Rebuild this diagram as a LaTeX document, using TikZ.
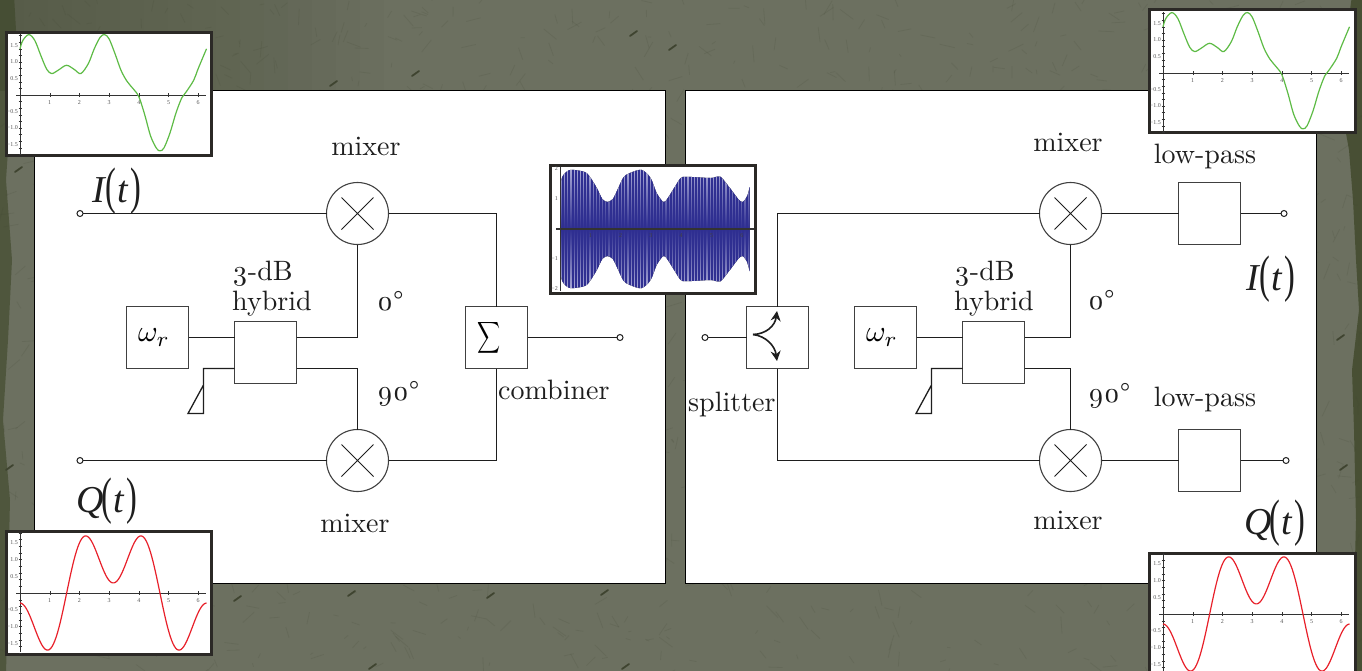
\documentclass[tikz,border=0pt]{standalone}
\usepackage{fontspec}
\usepackage{graphicx}
\setmainfont{lmroman10-regular.otf}[Numbers=OldStyle]
\newfontfamily\libser{Liberation Serif}
\newfontfamily\tickfont{Liberation Serif}
\usetikzlibrary{arrows.meta}
\definecolor{bgolive}{HTML}{6C7060}
\definecolor{bgdark}{HTML}{474C36}
\definecolor{bgdeep}{HTML}{3C4526}
\definecolor{scratch}{HTML}{3F4430}
\definecolor{ink}{HTML}{1E1E1E}
\definecolor{frameink}{HTML}{2B2926}
\definecolor{curvegreen}{HTML}{5DBB45}
\definecolor{curvered}{HTML}{E8202A}
\definecolor{carrier}{HTML}{2F2F91}
\definecolor{carrierlight}{HTML}{A9A9D6}
\definecolor{ticktext}{HTML}{555555}
\tikzset{
  panel/.style={draw=black,fill=white,line width=1.1pt},
  wire/.style={draw=ink,line width=1.3pt},
  blockbox/.style={draw=ink!85,fill=white,line width=1.2pt,minimum width=62pt,minimum height=62pt,inner sep=0pt,outer sep=0pt},
  mixernode/.style={circle,draw=ink!85,fill=white,line width=1.1pt,minimum size=62pt,inner sep=0pt,outer sep=0pt},
  terminal/.style={circle,draw=ink,fill=white,line width=1pt,minimum size=6pt,inner sep=0pt,outer sep=0pt},
  crossmark/.style={draw=ink,line width=.8pt},
  lbl/.style={font=\fontsize{28}{30}\selectfont,text=ink,inner sep=0pt,anchor=base west},
  sig/.style={font=\libser\itshape\fontsize{38}{40}\selectfont,text=ink,inner sep=0pt,anchor=base west},
  tick/.style={font=\tickfont\fontsize{6}{7}\selectfont,text=ticktext,inner sep=0pt},
  insetframe/.style={draw=frameink,fill=white,line width=3pt},
  axisline/.style={draw=black!80,line width=.7pt},
  trace/.style={line width=1.2pt},
}
\newcommand{\bigparen}[1]{{\libser\upshape\fontsize{38}{40}\selectfont\raisebox{-1pt}{\scalebox{.85}[1.35]{#1}}}}
\newcommand{\sigtext}[1]{#1\kern1pt\bigparen{(}\kern1pt t\kern2.5pt\bigparen{)}}
\newcommand{\omegalabel}{\hspace*{-7pt}\scalebox{3}{$\omega_r$}}
% axes of one small plot; #1 origin x, #2 origin y, #3 y tick pitch
\newcommand{\plotaxes}[3]{%
  \begin{scope}[shift={(#1,#2)}]
    \draw[axisline] (-4,0) -- (186,0);
    \draw[axisline] (0,-61) -- (0,59);
    \foreach \k in {1,...,6} {
      \draw[axisline,line width=.4pt] ({\k*29.7},-2) -- ({\k*29.7},2);
      \node[tick] at ({\k*29.7},8) {\k};
    }
    \foreach \k in {-18,-16,...,18} \draw[axisline,line width=.3pt] (-1.5,{\k*#3/10}) -- (1.5,{\k*#3/10});
    \foreach \v/\t in {1.5/1.5,1/1.0,.5/0.5,-.5/−0.5,-1/−1.0,-1.5/−1.5}
      \node[tick,anchor=east] at (-2,{-\v*#3}) {\t};
  \end{scope}}
\newcommand{\icurve}{plot[smooth,tension=.55] coordinates {(0,1.4) (.1,1.66) (.3,1.83) (.5,1.65) (.7,1.2) (.9,.78) (1.07,.65) (1.3,.76) (1.57,.9) (1.85,.76) (2.05,.65) (2.3,.95) (2.5,1.4) (2.7,1.75) (2.85,1.83) (3,1.7) (3.2,1.25) (3.4,.75) (3.6,.42) (3.8,.2) (4,-.05) (4.2,-.6) (4.4,-1.25) (4.6,-1.62) (4.72,-1.69) (4.85,-1.6) (5.05,-1.15) (5.25,-.55) (5.45,-.08) (5.6,.1) (5.85,.45) (6,.8) (6.28,1.4)}}
\newcommand{\qcurve}{plot[domain=0:6.283,samples=140,smooth] (\x,{-1.293*cos(\x r)+.993*cos(3*\x r)})}
\begin{document}
\begin{tikzpicture}[x=1pt,y=-1pt]
\useasboundingbox (0,0) rectangle (1362,670);
% ---- textured backdrop ----
\fill[bgolive] (-5,-5) rectangle (1367,675);
\foreach \i in {1,...,16} \fill[bgdark,opacity=.035] (-5,-5) rectangle ({\i*24},91);
\fill[bgdeep,opacity=.75] (1367,-5) -- (1352,-5) -- (1346,40) -- (1340,100) -- (1349,150) -- (1353,200) -- (1356,260) -- (1359,310) -- (1352,370) -- (1354,430) -- (1356,520) -- (1354,600) -- (1350,675) -- (1367,675) -- cycle;
\fill[bgdeep,opacity=.6] (-5,-5) -- (14,-5) -- (16,30) -- (10,120) -- (6,180) -- (12,260) -- (8,340) -- (3,420) -- (10,500) -- (6,675) -- (-5,675) -- cycle;
\pgfmathsetseed{4242}
\foreach \n in {1,...,1500} {
  \pgfmathsetmacro{\gx}{rnd*1362}
  \pgfmathsetmacro{\gy}{rnd*670}
  \pgfmathsetmacro{\ga}{rnd*360}
  \pgfmathsetmacro{\gl}{3+rnd*14}
  \draw[scratch,opacity=.14,line width=.8pt] (\gx,\gy) -- ++(\ga:\gl);
}
\foreach \sx/\sy in {330/86,412/76,630/36,669/50,234/601,348/596,487/598,601/595,369/669,622/669,15/172,1337/340,6/470,1340/470,1330/90} {
  \draw[scratch,line width=1.8pt,line cap=round] (\sx,\sy) -- ++(7,-5);
}
% ---- panels ----
\draw[panel] (34.5,90.5) rectangle (665.5,583.5);
\draw[panel] (685.5,90.5) rectangle (1316.5,583.5);
% ---- left panel ----
\node[terminal] (iinL) at (80,213.5) {};
\node[terminal] (qinL) at (80,460.5) {};
\node[mixernode] (mixUL) at (357.5,213.5) {};
\node[mixernode] (mixLL) at (357.5,460.5) {};
\node[blockbox] (oscL) at (157.5,337.5) {\omegalabel};
\node[blockbox] (hybL) at (265.5,352.5) {};
\node[blockbox] (sumL) at (496.5,337.5) {\hspace*{-14pt}\raisebox{2pt}{\scalebox{1.6}[2.2]{$\displaystyle\sum$}}};
\node[terminal] (outL) at (620,337.5) {};
\coordinate (upL) at (496.5,213.5);
\coordinate (dnL) at (496.5,460.5);
\coordinate (c0L) at (357.5,337.5);
\coordinate (c90L) at (357.5,368.5);
\coordinate (h90L) at (296.5,368.5);
\coordinate (hinL) at (234.5,368.5);
\coordinate (stubL) at (203.5,368.5);
\coordinate (t1L) at (203.5,385);
\coordinate (t2L) at (203.5,413.5);
\coordinate (t3L) at (188,413.5);
\draw[wire] (iinL) -- (mixUL);
\draw[wire] (qinL) -- (mixLL);
\draw[wire] (mixUL) -- (upL) -- (sumL.north);
\draw[wire] (mixLL) -- (dnL) -- (sumL.south);
\draw[wire] (sumL) -- (outL);
\draw[wire] (oscL.east) -- (oscL.east -| hybL.west);
\draw[wire] (oscL.east -| hybL.east) -- (c0L) -- (mixUL.south);
\draw[wire] (h90L) -- (c90L) -- (mixLL.north);
\draw[wire] (hinL) -- (stubL) -- (t2L) -- (t3L) -- (t1L);
\draw[crossmark] (mixUL) ++(-16,-16) -- ++(32,32) ++(-32,0) -- ++(32,-32);
\draw[crossmark] (mixLL) ++(-16,-16) -- ++(32,32) ++(-32,0) -- ++(32,-32);
% ---- right panel ----
\node[terminal] (inR) at (705,337.5) {};
\node[blockbox] (split) at (777.5,337.5) {};
\node[mixernode] (mixUR) at (1070.5,213.5) {};
\node[mixernode] (mixLR) at (1070.5,460.5) {};
\node[blockbox] (oscR) at (885.5,337.5) {\omegalabel};
\node[blockbox] (hybR) at (993.5,352.5) {};
\node[blockbox] (lpU) at (1209.5,213.5) {};
\node[blockbox] (lpL) at (1209.5,460.5) {};
\node[terminal] (iout) at (1284,213.5) {};
\node[terminal] (qout) at (1286,460.5) {};
\coordinate (upR) at (777.5,213.5);
\coordinate (dnR) at (777.5,460.5);
\coordinate (c0R) at (1070.5,337.5);
\coordinate (c90R) at (1070.5,368.5);
\coordinate (h90R) at (1024.5,368.5);
\coordinate (hinR) at (962.5,368.5);
\coordinate (stubR) at (931.5,368.5);
\coordinate (t1R) at (931.5,385);
\coordinate (t2R) at (931.5,413.5);
\coordinate (t3R) at (916,413.5);
\coordinate (sc) at (753,334.5);
\coordinate (sa) at (777,311);
\coordinate (sb) at (777,361);
\draw[wire] (inR) -- (split);
\draw[wire] (split.north) -- (upR) -- (mixUR);
\draw[wire] (split.south) -- (dnR) -- (mixLR);
\draw[wire] (mixUR) -- (lpU);
\draw[wire] (mixLR) -- (lpL);
\draw[wire] (lpU) -- (iout);
\draw[wire] (lpL) -- (qout);
\draw[wire] (oscR.east) -- (oscR.east -| hybR.west);
\draw[wire] (oscR.east -| hybR.east) -- (c0R) -- (mixUR.south);
\draw[wire] (h90R) -- (c90R) -- (mixLR.north);
\draw[wire] (hinR) -- (stubR) -- (t2R) -- (t3R) -- (t1R);
\draw[crossmark] (mixUR) ++(-16,-16) -- ++(32,32) ++(-32,0) -- ++(32,-32);
\draw[crossmark] (mixLR) ++(-16,-16) -- ++(32,32) ++(-32,0) -- ++(32,-32);
\draw[draw=ink,line width=1.6pt,-{Stealth[length=10pt,width=10pt]}] (sc) .. controls (766,334) and (775,326) .. (sa);
\draw[draw=ink,line width=1.6pt,-{Stealth[length=10pt,width=10pt]}] (sc) .. controls (766,336) and (775,346) .. (sb);
% ---- labels ----
\node[lbl,anchor=base] (tm1) at (366,155) {mixer};
\node[lbl,anchor=base] (tm2) at (355,532) {mixer};
\node[lbl] (t3a) at (232,280) {3-dB};
\node[lbl] (t3b) at (232,310) {hybrid};
\node[lbl] (t0a) at (377,310) {0°};
\node[lbl] (t9a) at (377,400) {90°};
\node[lbl] (tcomb) at (498,399) {combiner};
\node[lbl] (tsp) at (688,411) {splitter};
\node[lbl,anchor=base] (tm3) at (1068,151) {mixer};
\node[lbl,anchor=base] (tm4) at (1068,529) {mixer};
\node[lbl] (t3c) at (954,280) {3-dB};
\node[lbl] (t3d) at (954,310) {hybrid};
\node[lbl] (t0b) at (1088,309) {0°};
\node[lbl] (t9b) at (1088,402) {90°};
\node[lbl,anchor=base] (lp1) at (1205,163) {low-pass};
\node[lbl,anchor=base] (lp2) at (1205,406) {low-pass};
\node[sig] (si1) at (92,202) {\sigtext{I}};
\node[sig] (sq1) at (76,512) {\sigtext{Q\kern-3pt}};
\node[sig] (si2) at (1246,290) {\sigtext{I}};
\node[sig] (sq2) at (1244,534) {\sigtext{Q\kern-3pt}};
% ---- inset plots ----
\draw[insetframe] (6.5,32.5) rectangle (211.5,155.5);
\plotaxes{20}{95}{33}
\begin{scope}[shift={(20,95)},x=29.7pt,y=33pt]
  \draw[curvegreen,trace] \icurve;
\end{scope}
\draw[insetframe] (6.5,531.5) rectangle (211.5,654.5);
\plotaxes{20}{593}{33.5}
\begin{scope}[shift={(20,593)},x=29.7pt,y=33.5pt]
  \draw[curvered,trace] \qcurve;
\end{scope}
\draw[insetframe] (1149.5,9.5) rectangle (1355.5,132.5);
\plotaxes{1163}{73}{33}
\begin{scope}[shift={(1163,73)},x=29.7pt,y=33pt]
  \draw[curvegreen,trace] \icurve;
\end{scope}
\draw[insetframe] (1149.5,553.5) rectangle (1355.5,690);
\plotaxes{1163}{614}{33.5}
\begin{scope}[shift={(1163,614)},x=29.7pt,y=33.5pt]
  \draw[curvered,trace] \qcurve;
\end{scope}
% carrier plot
\draw[insetframe] (550.5,165.5) rectangle (755.5,293.5);
\begin{scope}[shift={(560,229)},x=30.2pt,y=30pt]
  \begin{scope}
    \clip plot[smooth,tension=.5] coordinates {(0,1.4) (.08,1.75) (.3,1.96) (.6,1.95) (.9,1.85) (1.2,1.4) (1.4,1) (1.57,.9) (1.75,1) (1.9,1.3) (2.1,1.72) (2.3,1.86) (2.7,1.97) (3,1.7) (3.2,1.2) (3.42,.9) (3.55,1) (3.8,1.4) (4,1.7) (4.2,1.74) (5,1.7) (5.3,1.75) (5.6,1.4) (5.9,1) (6.05,.9) (6.2,1.1) (6.28,1.4)}
      -- (6.28,-1.4) -- plot[smooth,tension=.5] coordinates {(6.2,-1.1) (6.05,-.9) (5.9,-1) (5.6,-1.4) (5.3,-1.75) (5,-1.7) (4.2,-1.74) (4,-1.7) (3.8,-1.4) (3.55,-1) (3.42,-.9) (3.2,-1.2) (3,-1.7) (2.7,-1.97) (2.3,-1.86) (2.1,-1.72) (1.9,-1.3) (1.75,-1) (1.57,-.9) (1.4,-1) (1.2,-1.4) (.9,-1.85) (.6,-1.95) (.3,-1.96) (.08,-1.75) (0,-1.4)} -- cycle;
    \fill[top color=carrierlight,bottom color=carrier] (0,2) rectangle (6.3,0);
    \fill[top color=carrier,bottom color=carrierlight] (0,0) rectangle (6.3,-2);
    \foreach \k in {0,...,60} \draw[carrier,line width=2pt] ({\k*.1047},2) -- ({\k*.1047},-2);
  \end{scope}
\end{scope}
\begin{scope}[shift={(560,229)}]
  \draw[axisline,line width=1.1pt] (-4,0) -- (194,0);
  \draw[axisline] (0,-62) -- (0,62);
  \foreach \k in {1,...,6} \node[tick,text=black!75] at ({\k*30.3},7) {\k};
  \foreach \v/\t in {2/2,1/1,-1/−1,-2/−2} \node[tick,anchor=east] at (-2,{-\v*30}) {\t};
\end{scope}
\end{tikzpicture}
\end{document}
